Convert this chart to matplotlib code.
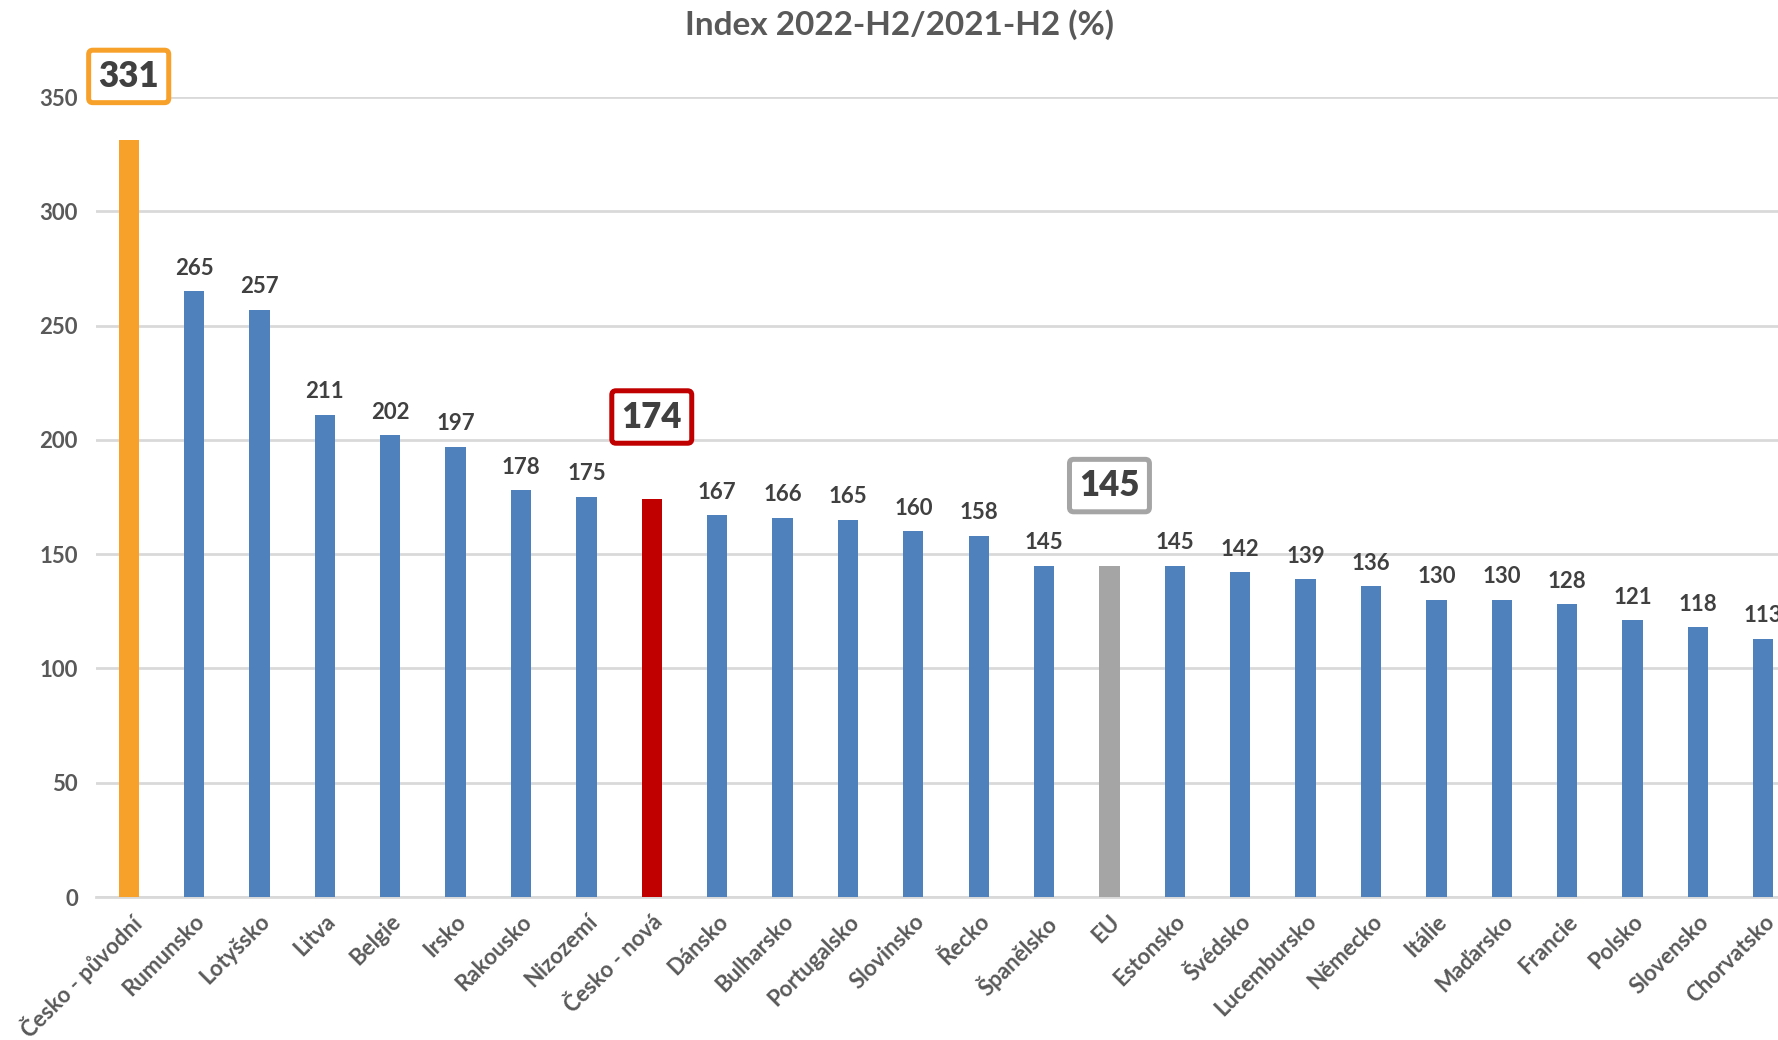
import numpy as np
import matplotlib.pyplot as plt

plt.rcParams['font.family'] = ['Lato', 'DejaVu Sans']

# data
countries = ['Česko - původní', 'Rumunsko', 'Lotyšsko', 'Litva', 'Belgie', 'Irsko',
             'Rakousko', 'Nizozemí', 'Česko - nová', 'Dánsko', 'Bulharsko',
             'Portugalsko', 'Slovinsko', 'Řecko', 'Španělsko', 'EU', 'Estonsko',
             'Švédsko', 'Lucembursko', 'Německo', 'Itálie', 'Maďarsko', 'Francie',
             'Polsko', 'Slovensko', 'Chorvatsko']
index_values = [331, 265, 257, 211, 202, 197, 178, 175, 174, 167, 166, 165, 160,
                158, 145, 145, 145, 142, 139, 136, 130, 130, 128, 121, 118, 113]

# highlighted bars: name -> (colour, y of boxed label)
highlight = {'Česko - původní': ('#F8A12A', 359),
             'Česko - nová': ('#C00000', 210),
             'EU': ('#A5A5A5', 180)}

blue = '#4F81BD'
text_col = '#404040'
tick_col = '#595959'

fig = plt.figure(figsize=(17.78, 10.4), dpi=100)
ax = fig.add_axes([96 / 1778, 1 - 897 / 1040, 1700 / 1778, 800 / 1040])

x = np.arange(len(countries))
colors = [highlight[c][0] if c in highlight else blue for c in countries]
ax.bar(x, index_values, width=0.31, color=colors, zorder=3)

for i, (c, v) in enumerate(zip(countries, index_values)):
    if c in highlight:
        col, ypos = highlight[c]
        ax.text(i, ypos, str(v), ha='center', va='center', fontsize=25,
                fontweight='heavy', color=text_col, zorder=5,
                bbox=dict(boxstyle='round,pad=0.28,rounding_size=0.12',
                          fc='white', ec=col, lw=3.6))
    else:
        # the last label runs off the right edge, as in the original
        ax.annotate(str(v), (i, v), xytext=(0, 9), textcoords='offset points',
                    ha='center', va='bottom', fontsize=16, fontweight='bold',
                    color=text_col)

ax.set_xlim(-0.5, 25.5)
ax.set_ylim(0, 350)
ax.set_yticks(np.arange(0, 351, 50))
ax.yaxis.grid(True, color='#D9D9D9', lw=2, zorder=0)
ax.set_axisbelow(True)
for s in ['top', 'right', 'left']:
    ax.spines[s].set_visible(False)
ax.spines['bottom'].set_color('#D9D9D9')
ax.spines['bottom'].set_linewidth(2)

ax.set_xticks(x)
ax.set_xticklabels(countries, rotation=45, ha='right', va='top',
                   rotation_mode='anchor', fontsize=16, fontweight='bold',
                   color=tick_col)
ax.tick_params(axis='x', length=0, pad=10)
ax.tick_params(axis='y', length=0, pad=13, labelsize=16, labelcolor=tick_col)
for lbl in ax.get_yticklabels():
    lbl.set_fontweight('bold')

fig.text(899 / 1778, 1 - 25 / 1040, 'Index 2022-H2/2021-H2 (%)', ha='center',
         va='center', fontsize=24, fontweight='bold', color=tick_col)

fig.savefig('out.png', dpi=100)
